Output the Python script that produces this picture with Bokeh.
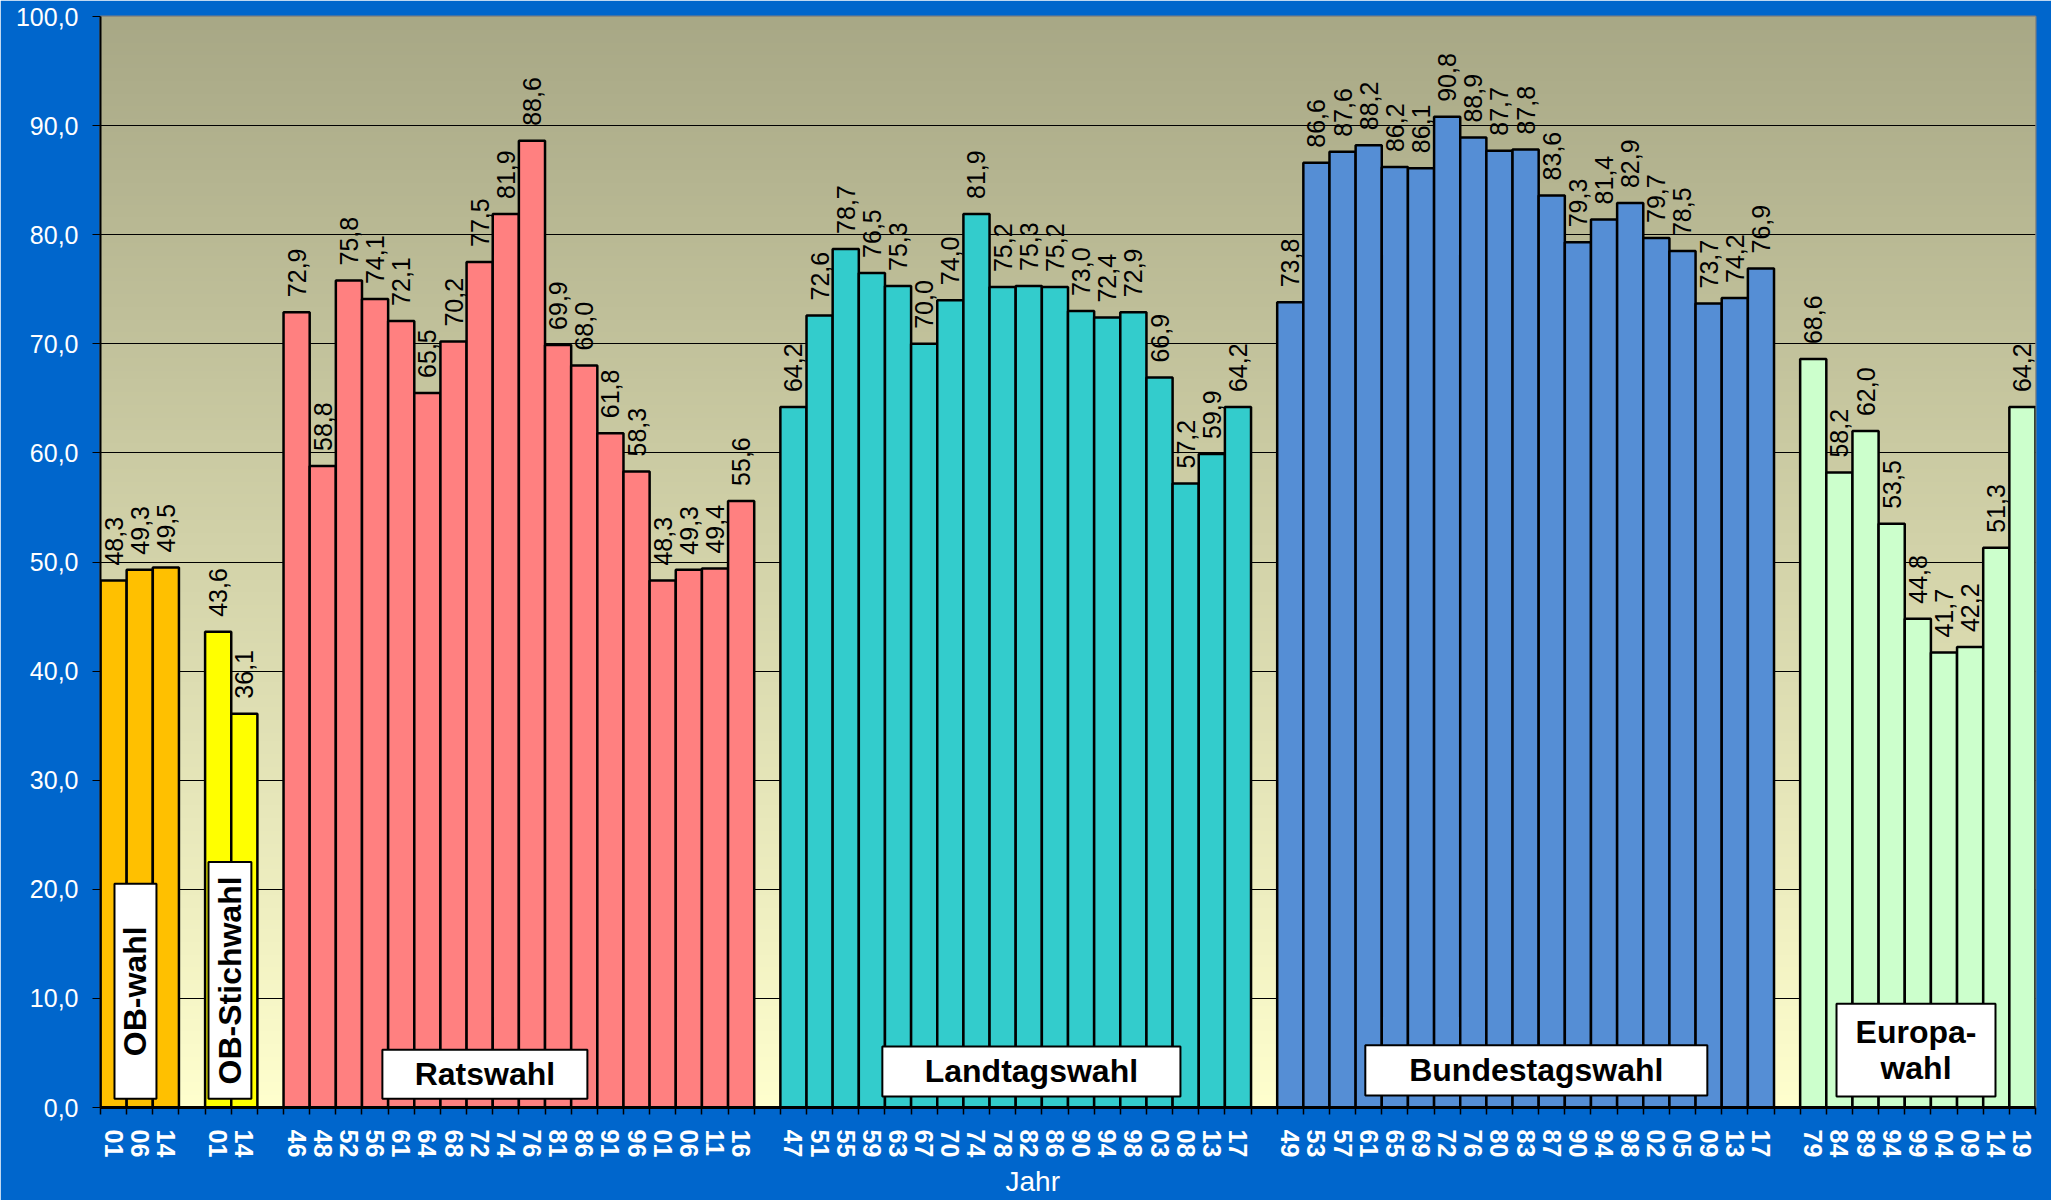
import numpy as np
from bokeh.plotting import figure
from bokeh.models import ColumnDataSource, FixedTicker, Range1d, Title
from bokeh.core.properties import value
from bokeh.embed import file_html
from bokeh.resources import INLINE

# ---------------- data ----------------
groups = ["OB-wahl", "OB-Stichwahl", "Ratswahl", "Landtagswahl", "Bundestagswahl", "Europa-\nwahl"]

ob_years = ["01", "06", "14"]
ob_vals = [48.3, 49.3, 49.5]

stich_years = ["01", "14"]
stich_vals = [43.6, 36.1]

rat_years = ["46", "48", "52", "56", "61", "64", "68", "72", "74", "76", "81", "86", "91", "96", "01", "06", "11", "16"]
rat_vals = [72.9, 58.8, 75.8, 74.1, 72.1, 65.5, 70.2, 77.5, 81.9, 88.6, 69.9, 68.0, 61.8, 58.3, 48.3, 49.3, 49.4, 55.6]

land_years = ["47", "51", "55", "59", "63", "67", "70", "74", "78", "82", "86", "90", "94", "98", "03", "08", "13", "17"]
land_vals = [64.2, 72.6, 78.7, 76.5, 75.3, 70.0, 74.0, 81.9, 75.2, 75.3, 75.2, 73.0, 72.4, 72.9, 66.9, 57.2, 59.9, 64.2]

bund_years = ["49", "53", "57", "61", "65", "69", "72", "76", "80", "83", "87", "90", "94", "98", "02", "05", "09", "13", "17"]
bund_vals = [73.8, 86.6, 87.6, 88.2, 86.2, 86.1, 90.8, 88.9, 87.7, 87.8, 83.6, 79.3, 81.4, 82.9, 79.7, 78.5, 73.7, 74.2, 76.9]

euro_years = ["79", "84", "89", "94", "99", "04", "09", "14", "19"]
euro_vals = [68.6, 58.2, 62.0, 53.5, 44.8, 41.7, 42.2, 51.3, 64.2]

y_ticks = [0, 10, 20, 30, 40, 50, 60, 70, 80, 90, 100]
x_title = "Jahr"

# ---------------- styles ----------------
group_colors = ["#FFC000", "#FFFF00", "#FF8080", "#33CCCC", "#558ED5", "#CCFFCC"]
all_years = [ob_years, stich_years, rat_years, land_years, bund_years, euro_years]
all_vals = [ob_vals, stich_vals, rat_vals, land_vals, bund_vals, euro_vals]

# slot positions (one empty slot between groups)
xs, tops, cols, labels, years = [], [], [], [], []
start = 0
for yrs, vals, col in zip(all_years, all_vals, group_colors):
    for i, (yr, v) in enumerate(zip(yrs, vals)):
        xs.append(start + i)
        tops.append(v)
        cols.append(col)
        labels.append(f"{v:.1f}".replace(".", ","))
        years.append(yr)
    start += len(yrs) + 1
n_slots = start - 1

src = ColumnDataSource(dict(x=xs, top=tops, color=cols, label=labels))

FONT = "Liberation Sans, Arial, sans-serif"

p = figure(width=2051, height=1200, output_backend="svg", toolbar_location=None,
           x_range=Range1d(-0.5, n_slots - 0.5), y_range=Range1d(0, 100),
           min_border_left=100, min_border_right=16, min_border_top=16, min_border_bottom=93)
p.border_fill_color = "#0066CC"
p.background_fill_color = "#FFFFCC"
p.outline_line_color = "#808080"
p.outline_line_width = 2

# background gradient
N = 256
img = np.empty((N, 1), dtype=np.uint32)
view = img.view(dtype=np.uint8).reshape((N, 1, 4))
bottom_c = np.array([255, 255, 206])
top_c = np.array([168, 168, 134])
for i in range(N):
    t = i / (N - 1)
    c = bottom_c + (top_c - bottom_c) * t
    view[i, 0, 0] = int(c[0]); view[i, 0, 1] = int(c[1]); view[i, 0, 2] = int(c[2]); view[i, 0, 3] = 255
p.image_rgba(image=[img], x=-0.5, y=0, dw=n_slots, dh=100, level="image")

# grid
p.xgrid.grid_line_color = None
p.ygrid.grid_line_color = "black"
p.ygrid.grid_line_width = 1
p.ygrid.ticker = FixedTicker(ticks=y_ticks)

# bars
p.vbar(x="x", top="top", bottom=0, width=1.0, source=src, fill_color="color",
       line_color="black", line_width=2.5)

# value labels
p.text(x="x", y="top", text="label", source=src, angle=np.pi / 2, y_offset=-15,
       text_align="left", text_baseline="middle", text_font=value(FONT),
       text_font_size="25px", text_color="black")

# group label boxes (layout)
box_left = [0.035, 3.63, 10.28, 29.40, 47.87, 65.89]
box_right = [1.64, 5.27, 18.12, 40.80, 60.95, 71.97]
box_top = [20.5, 22.5, 5.3, 5.6, 5.7, 9.5]
box_bottom = [0.8, 0.8, 0.8, 1.0, 1.1, 1.0]
box_angle = [np.pi / 2, np.pi / 2, 0, 0, 0, 0]
bsrc = ColumnDataSource(dict(left=box_left, right=box_right, top=box_top, bottom=box_bottom,
                             cx=[(a + b) / 2 for a, b in zip(box_left, box_right)],
                             cy=[(a + b) / 2 for a, b in zip(box_top, box_bottom)],
                             text=groups, angle=box_angle))
p.quad(left="left", right="right", top="top", bottom="bottom", source=bsrc,
       fill_color="white", line_color="black", line_width=2)
p.text(x="cx", y="cy", text="text", angle="angle", source=bsrc, text_align="center",
       text_baseline="middle", text_font=value(FONT), text_font_style="bold",
       text_font_size="32px", text_color="black", text_line_height=1.0)

# axes
xa = p.xaxis[0]
xa.ticker = FixedTicker(ticks=xs, minor_ticks=[i - 0.5 for i in range(n_slots + 1)])
xa.major_label_overrides = {x: y for x, y in zip(xs, years)}
xa.major_label_orientation = "vertical"
xa.major_label_text_color = "white"
xa.major_label_text_font = FONT
xa.major_label_text_font_style = "bold"
xa.major_label_text_font_size = "25px"
xa.major_label_standoff = 15
xa.major_tick_line_color = None
xa.major_tick_out = 0
xa.major_tick_in = 0
xa.minor_tick_line_color = "black"
xa.minor_tick_line_width = 1.5
xa.minor_tick_out = 7
xa.minor_tick_in = 0
xa.axis_line_color = "black"
xa.axis_line_width = 3

# x-axis title (slightly left of centre, as in the original)
p.add_layout(Title(text=x_title, align="left", offset=905, standoff=6,
                   text_color="white", text_font=FONT, text_font_size="28px",
                   text_font_style="normal"), "below")

ya = p.yaxis[0]
ya.ticker = FixedTicker(ticks=y_ticks)
ya.major_label_overrides = {t: f"{t:.1f}".replace(".", ",") for t in y_ticks}
ya.major_label_text_color = "white"
ya.major_label_text_font = FONT
ya.major_label_text_font_size = "25px"
ya.major_label_standoff = 14
ya.major_tick_line_color = "black"
ya.major_tick_out = 8
ya.major_tick_in = 0
ya.minor_tick_line_color = None
ya.axis_line_color = "black"
ya.axis_line_width = 2

open("out.html", "w").write(file_html(p, INLINE))
